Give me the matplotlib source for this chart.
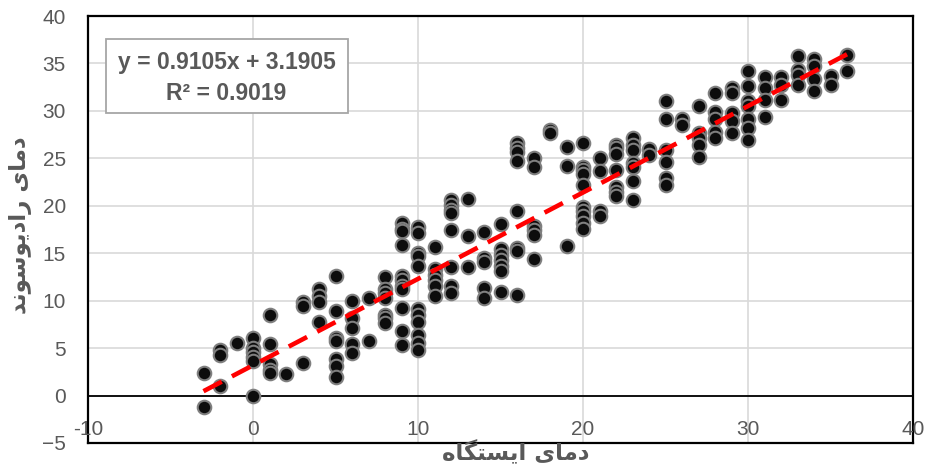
import numpy as np
import matplotlib.pyplot as plt
from matplotlib.patches import Rectangle
from matplotlib.transforms import blended_transform_factory

# station temperature (x) -> radiosonde temperatures read at that x
station_x = [-3, -2, -1, 0, 1, 2, 3, 4, 5, 6, 7, 8, 9, 10, 11, 12, 13, 14, 15, 16, 17, 18,
             19, 20, 21, 22, 23, 24, 25, 26, 27, 28, 29, 30, 31, 32, 33, 34, 35, 36]
radio_y = [
    [2.4, -1.2],
    [4.8, 4.3, 1.0],
    [5.5],
    [6.1, 5.0, 4.6, 4.1, 3.6, 0.0],
    [8.5, 5.4, 3.3, 2.7, 2.4],
    [2.3],
    [9.9, 9.4, 3.4],
    [11.2, 10.5, 9.9, 7.8],
    [12.6, 8.9, 6.1, 5.7, 3.8, 3.1, 2.0],
    [10.0, 8.2, 7.1, 5.4, 4.5],
    [10.3, 5.7],
    [12.5, 11.2, 10.8, 10.3, 8.5, 8.2, 7.6],
    [18.2, 17.6, 17.3, 15.9, 12.6, 12.2, 11.5, 11.2, 9.2, 6.8, 5.3],
    [17.8, 17.1, 15.0, 14.7, 13.7, 9.1, 8.5, 7.8, 6.4, 5.5, 4.8],
    [15.7, 13.3, 12.7, 12.2, 11.5, 10.5],
    [20.6, 20.1, 19.6, 19.2, 17.5, 13.6, 11.5, 10.8],
    [20.7, 16.8, 13.5],
    [17.2, 14.5, 14.1, 11.3, 10.3],
    [18.1, 15.4, 14.8, 14.3, 13.7, 13.1, 10.9],
    [26.6, 26.1, 25.7, 24.7, 19.5, 15.5, 15.2, 10.6],
    [25.0, 24.1, 17.9, 17.5, 16.9, 14.4],
    [28.0, 27.7],
    [26.2, 24.2, 15.8],
    [26.6, 24.1, 23.8, 23.4, 22.2, 19.9, 19.4, 18.9, 18.2, 17.6],
    [25.0, 23.7, 19.4, 18.9],
    [26.4, 26.1, 25.5, 23.8, 22.0, 21.5, 21.0],
    [27.1, 26.4, 25.9, 24.5, 24.1, 22.6, 20.6],
    [26.0, 25.4],
    [31.0, 29.1, 25.9, 24.6, 22.9, 22.2],
    [29.1, 28.5],
    [30.5, 27.7, 27.1, 26.4, 25.1],
    [31.9, 29.9, 29.1, 27.8, 27.1],
    [32.4, 31.9, 29.8, 28.9, 27.7],
    [34.2, 32.6, 31.0, 30.5, 29.1, 28.2, 26.9],
    [33.6, 32.4, 31.2, 29.4],
    [33.6, 32.7, 31.1],
    [35.8, 34.3, 33.8, 32.7],
    [35.5, 34.7, 33.4, 32.1],
    [33.7, 32.7],
    [35.9, 34.2],
]

slope = 0.9105
intercept = 3.1905
r2 = 0.9019

x_ticks = [-10, 0, 10, 20, 30, 40]
y_ticks = [-5, 0, 5, 10, 15, 20, 25, 30, 35, 40]

# persian labels, pre-shaped (presentation forms) in visual order
xlabel_fa = "\ufee9\ufe8e\ufb95\ufe98\ufeb4\ufbfe\ufe8d \ufbfc\ufe8e\ufee3\ufea9"     # دمای ایستگاه
ylabel_fa = "\ufeaa\ufee7\ufeee\ufeb3\ufeee\ufbfe\ufea9\ufe8d\ufead \ufbfc\ufe8e\ufee3\ufea9"  # دمای رادیوسوند

xs = np.concatenate([[x] * len(ys) for x, ys in zip(station_x, radio_y)])
ys = np.concatenate(radio_y)

gray = '#595959'
fig = plt.figure(figsize=(9.27, 4.74), dpi=100)
ax = fig.add_axes([88 / 927, 1 - 443 / 474, 825 / 927, 427 / 474])

ax.scatter(xs, ys, s=95, c='#0d0d0d', edgecolors='#7f7f7f', linewidths=1.5, zorder=3)

lx = np.array([min(station_x), max(station_x)])
ax.plot(lx, slope * lx + intercept, color='#ff0000', lw=3.3, ls=(0, (4.5, 2.5)),
        solid_capstyle='butt', dash_capstyle='butt', zorder=4)

ax.set_xlim(-10, 40)
ax.set_ylim(-5, 40)
ax.set_xticks(x_ticks)
ax.set_yticks(y_ticks)
ax.grid(True, color='#d9d9d9', lw=1.2, zorder=0)
ax.set_axisbelow(True)
ax.axhline(0, color='black', lw=1.3, zorder=2)
for sp in ax.spines.values():
    sp.set_color('black')
    sp.set_linewidth(1.6)

ax.tick_params(axis='both', length=0)
ax.tick_params(axis='y', pad=16, labelsize=15, labelcolor=gray)
for lab in ax.get_yticklabels():
    lab.set_fontfamily('Liberation Sans')
ax.tick_params(axis='x', labelbottom=False)
tr = blended_transform_factory(ax.transData, ax.transAxes)
for t in x_ticks:
    ax.text(t, 0.031, str(t), transform=tr, ha='center', va='center',
            fontsize=15, color=gray, family='Liberation Sans', zorder=5)

# equation box
ax.add_patch(Rectangle((0.0218, 0.773), 0.293, 0.173, transform=ax.transAxes,
                       facecolor='white', edgecolor='#a6a6a6', lw=1.3, zorder=5))
ax.text(0.168, 0.892, f'y = {slope}x + {intercept}', transform=ax.transAxes,
        ha='center', va='center', fontsize=16.5, fontweight='bold', color=gray,
        family='Liberation Sans', zorder=6)
ax.text(0.168, 0.818, f'R\u00b2 = {r2}', transform=ax.transAxes,
        ha='center', va='center', fontsize=16.5, fontweight='bold', color=gray,
        family='Liberation Sans', zorder=6)

fig.text(516 / 927, 1 - 453 / 474, xlabel_fa, ha='center', va='center', fontsize=16.5,
         fontweight='bold', color=gray, family='DejaVu Sans')
fig.text(21 / 927, 1 - 225 / 474, ylabel_fa, ha='center', va='center', rotation=90,
         fontsize=16.5, fontweight='bold', color=gray, family='DejaVu Sans')

fig.savefig('out.png', dpi=100)
